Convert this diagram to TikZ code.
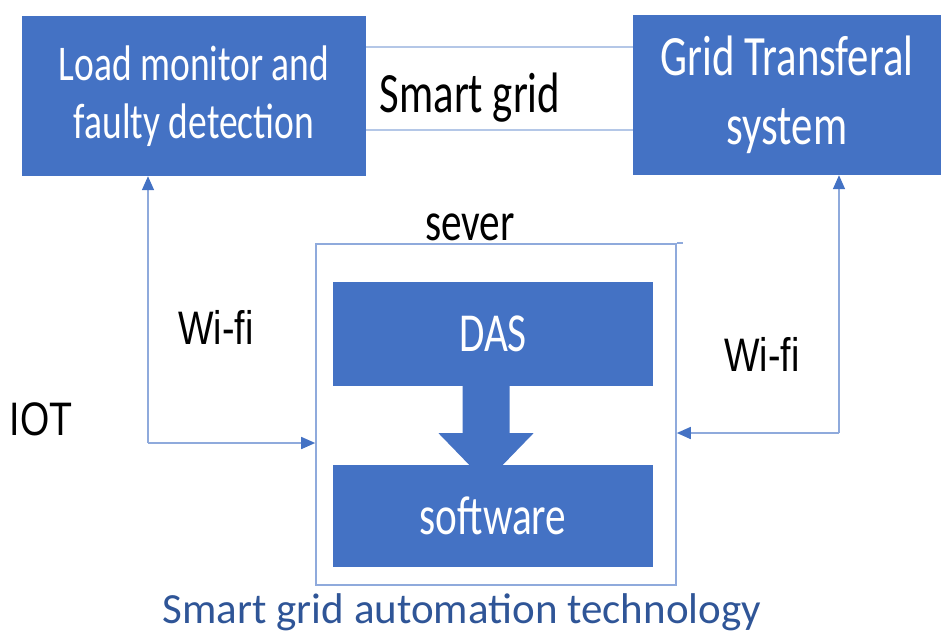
\documentclass[tikz,border=0pt]{standalone}
\usepackage{fontspec}
\setmainfont{Carlito}
\newfontfamily\narrowfont{Carlito}[FakeStretch=0.75]
\newfontfamily\labelfont{Liberation Sans}[FakeStretch=0.8]
\usetikzlibrary{arrows.meta,calc}
\definecolor{boxblue}{HTML}{4472C4}
\definecolor{wireblue}{HTML}{8FAADC}
\definecolor{pairblue}{HTML}{B4C7E7}
\definecolor{captionblue}{HTML}{2F5597}

\begin{document}
\begin{tikzpicture}[x=1pt,y=-1pt,
    bluebox/.style={fill=boxblue, text=white, align=center, inner sep=0pt,
        font=\narrowfont\fontsize{55}{66}\selectfont},
    wire/.style={draw=wireblue, line width=1.6pt},
    pair/.style={draw=pairblue, line width=2pt},
    tip/.style={-{Triangle[length=14pt,width=12pt,color=boxblue]}},
    plain/.style={anchor=base, inner sep=0pt}]
    \useasboundingbox (0,0) rectangle (942,641);

    \node[bluebox, minimum width=344pt, minimum height=160pt,
        font=\narrowfont\fontsize{50}{58}\selectfont] (load) at (194,96)
        {Load monitor and\\faulty detection};
    \node[bluebox, minimum width=308pt, minimum height=160pt,
        font=\narrowfont\fontsize{57}{69}\selectfont] (grid) at (787,95)
        {Grid Transferal\\system};
    \draw[pair] (load.east |- 0,47) -- (grid.west |- 0,47);
    \draw[pair] (load.east |- 0,130) -- (grid.west |- 0,130);
    \node[plain, font=\narrowfont\fontsize{57}{57}\selectfont] (smart) at (470,112) {Smart grid};

    \node[wire, minimum width=360pt, minimum height=341pt] (server) at (496,414.5) {};
    \draw[wire] (server.north east) -- ++(6,0);
    \node[plain, font=\narrowfont\fontsize{55}{55}\selectfont] (sever) at (470,240) {sever};
    \node[bluebox, minimum width=320pt, minimum height=104pt] (das) at (493,334) {DAS};
    \node[bluebox, minimum width=320pt, minimum height=102pt] (soft) at (493,516) {software};
    \fill[boxblue] ($(das.south)+(-30.5,-1)$) -- ++(47,0) -- ++(0,48) -- ++(24,0)
        -- ++(-47.5,49) -- ++(-47.5,-49) -- ++(24,0) -- cycle;

    \coordinate (lbend) at (148,443);
    \coordinate (rbend) at (839,433);
    \draw[wire, tip] (lbend) -- (load.south -| lbend);
    \draw[wire, tip] (lbend) -- (lbend -| server.west);
    \draw[wire, tip] (rbend) -- (grid.south -| rbend);
    \draw[wire, tip] (rbend) -- (rbend -| server.east);

    \node[plain, font=\labelfont\fontsize{47}{47}\selectfont] (wifil) at (216,344) {Wi-fi};
    \node[plain, font=\labelfont\fontsize{47}{47}\selectfont] (wifir) at (762,371) {Wi-fi};
    \node[plain, font=\labelfont\fontsize{47}{47}\selectfont] (iot) at (41,435) {IOT};
    \node[plain, text=captionblue, font=\fontsize{43}{43}\selectfont] (caption) at (462,623)
        {Smart grid automation technology};
\end{tikzpicture}
\end{document}
